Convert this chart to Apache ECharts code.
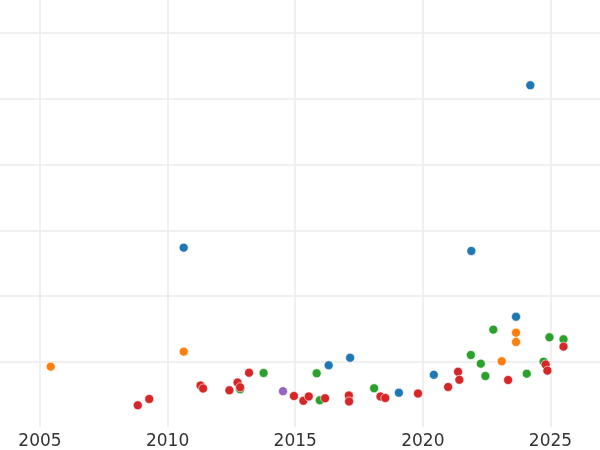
<!DOCTYPE html>
<html>
<head>
<meta charset="utf-8">
<script src="https://cdn.jsdelivr.net/npm/echarts@6/dist/echarts.min.js"></script>
<style>html,body{margin:0;padding:0;background:#fff}#c{width:600px;height:450px}</style>
</head>
<body>
<div id="c"></div>
<script>
// x = year, y = value (y-axis units hidden in reference)
const xTicks = [2005, 2010, 2015, 2020, 2025];
const yGrid = [1, 2, 3, 4, 5, 6];

const blueYears  = [2010.63, 2021.90, 2024.21, 2016.31, 2017.15, 2019.06, 2020.43, 2023.65];
const blueVals   = [2.737, 2.687, 5.205, 0.950, 1.065, 0.533, 0.805, 1.688];

const orangeYears = [2005.42, 2010.63, 2023.09, 2023.65, 2023.65];
const orangeVals  = [0.929, 1.157, 1.011, 1.445, 1.304];

const greenYears = [2012.84, 2013.76, 2015.84, 2015.96, 2018.09, 2021.88, 2022.27, 2022.45, 2022.76, 2024.07, 2024.73, 2024.96, 2025.51];
const greenVals  = [0.585, 0.833, 0.828, 0.418, 0.600, 1.106, 0.974, 0.787, 1.491, 0.822, 1.005, 1.375, 1.345];

const purpleYears = [2014.52];
const purpleVals  = [0.556];

const redYears = [2008.83, 2009.28, 2011.29, 2011.39, 2012.42, 2012.74, 2012.84, 2013.19, 2014.95, 2015.32, 2015.53, 2016.17, 2017.10, 2017.11, 2018.34, 2018.53, 2019.81, 2020.99, 2021.38, 2021.43, 2023.34, 2024.81, 2024.88, 2025.51];
const redVals  = [0.342, 0.438, 0.643, 0.597, 0.570, 0.688, 0.616, 0.837, 0.483, 0.410, 0.476, 0.448, 0.491, 0.400, 0.476, 0.453, 0.521, 0.620, 0.851, 0.729, 0.726, 0.962, 0.868, 1.233];

function pairs(xs, ys) { return xs.map((x, i) => [x, ys[i]]); }

const groups = [
  {name: 'blue',   color: '#1f77b4', xs: blueYears,   ys: blueVals},
  {name: 'orange', color: '#ff7f0e', xs: orangeYears, ys: orangeVals},
  {name: 'green',  color: '#2ca02c', xs: greenYears,  ys: greenVals},
  {name: 'purple', color: '#9467bd', xs: purpleYears, ys: purpleVals},
  {name: 'red',    color: '#d62728', xs: redYears,    ys: redVals}
];

const chart = echarts.init(document.getElementById('c'), null, {renderer: 'canvas'});
const gridLine = {show: true, lineStyle: {color: '#ebebeb', width: 1.5}};
chart.setOption({
  animation: false,
  backgroundColor: '#ffffff',
  grid: {left: 0, right: 0, top: 0, bottom: 23, containLabel: false, outerBoundsMode: 'none'},
  xAxis: {
    type: 'value',
    min: 2003.433,
    max: 2026.94,
    axisLine: {show: false},
    axisTick: {show: false, customValues: xTicks},
    axisLabel: {customValues: xTicks, formatter: v => String(v), color: '#333333', fontSize: 17, fontFamily: 'DejaVu Sans', margin: 6},
    splitLine: gridLine
  },
  yAxis: {
    type: 'value',
    min: 0.012,
    max: 6.50,
    axisLine: {show: false},
    axisTick: {show: false, customValues: yGrid},
    axisLabel: {show: false, customValues: yGrid},
    splitLine: gridLine
  },
  series: groups.map(g => ({
    type: 'scatter',
    name: g.name,
    data: pairs(g.xs, g.ys),
    symbolSize: 9,
    itemStyle: {color: g.color, opacity: 1, borderColor: '#ffffff', borderWidth: 0.6},
    emphasis: {disabled: true}
  }))
});
</script>
</body>
</html>
